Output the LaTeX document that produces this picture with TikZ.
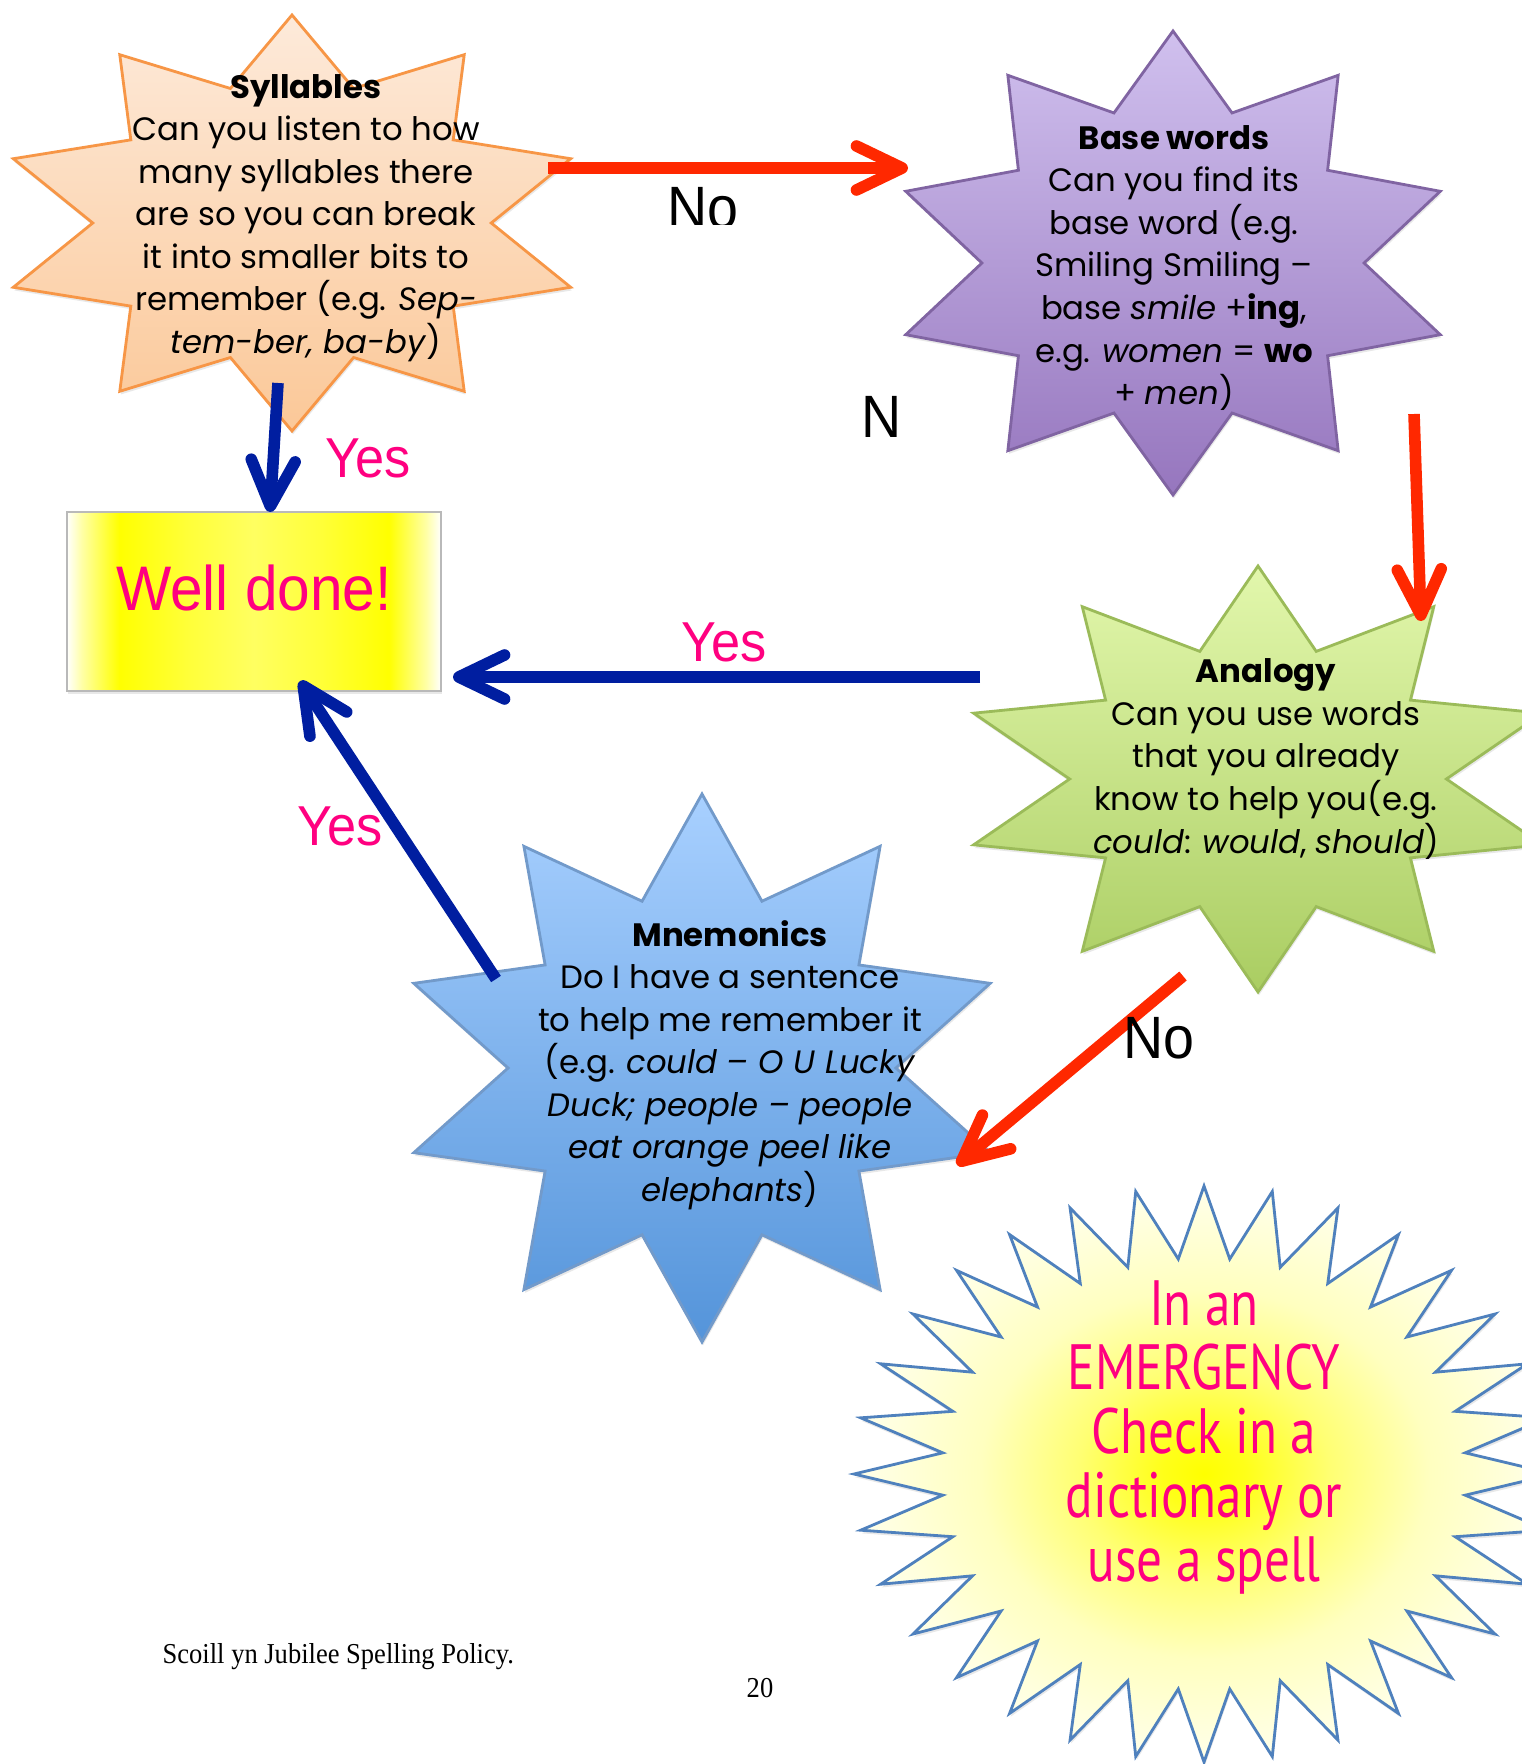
\documentclass[tikz,border=0pt]{standalone}
\usepackage{fontspec}
\setmainfont{Poppins}
\newfontfamily\labelfont[FakeStretch=0.93]{Liberation Sans}
\newfontfamily\burstfont[FakeStretch=0.8]{PT Sans}
\newfontfamily\footfont[FakeStretch=0.92]{Liberation Serif}
\usetikzlibrary{arrows.meta,shadows}

\definecolor{sylTop}{RGB}{253,234,218}
\definecolor{sylBot}{RGB}{251,200,152}
\definecolor{sylLine}{RGB}{247,150,70}
\definecolor{baseTop}{RGB}{208,192,238}
\definecolor{baseBot}{RGB}{150,118,190}
\definecolor{baseLine}{RGB}{128,100,162}
\definecolor{anaTop}{RGB}{226,247,172}
\definecolor{anaBot}{RGB}{170,205,98}
\definecolor{anaLine}{RGB}{155,187,89}
\definecolor{mnemTop}{RGB}{168,208,255}
\definecolor{mnemBot}{RGB}{84,148,218}
\definecolor{mnemLine}{RGB}{79,129,189}
\definecolor{arrowred}{RGB}{255,40,0}
\definecolor{arrowblue}{RGB}{0,30,160}
\definecolor{pinktext}{RGB}{255,0,128}

% tikz maps a path's box onto the middle 25bp--75bp of a shading
\pgfdeclareradialshading{burstfill}{\pgfpointorigin}{color(0bp)=(yellow); color(3bp)=(yellow!90!white); color(9bp)=(yellow!55!white); color(16bp)=(yellow!25!white); color(25bp)=(yellow!8!white); color(50bp)=(yellow!8!white)}
\pgfdeclarehorizontalshading{donefill}{100bp}{color(0bp)=(white); color(25bp)=(white); color(27bp)=(yellow!35!white); color(32bp)=(yellow); color(41bp)=(yellow!78!white); color(50bp)=(yellow!62!white); color(59bp)=(yellow!78!white); color(68bp)=(yellow); color(73bp)=(yellow!35!white); color(75bp)=(white); color(100bp)=(white)}

% star outline: style, cx, cy, rx, ry, points, inner ratio
\newcommand\starburst[7]{%
  \pgfmathtruncatemacro\nsamp{2*#6}%
  \pgfmathtruncatemacro\nlast{2*#6-1}%
  \path[#1] plot[domain=0:\nlast, samples=\nsamp, variable=\k]
    ({#2+(1-(1-#7)*mod(round(\k),2))*#4*cos(90+180/#6*\k)},
     {#3-(1-(1-#7)*mod(round(\k),2))*#5*sin(90+180/#6*\k)}) -- cycle;}

\tikzset{>={Straight Barb[length=13pt,width=12.5pt,round]}}
\tikzset{
  softshadow/.style={drop shadow={opacity=0.18, shadow xshift=0.3pt, shadow yshift=-0.9pt}},
  sylstar/.style={draw=sylLine, line width=0.8pt, top color=sylTop, bottom color=sylBot, softshadow},
  basestar/.style={draw=baseLine, line width=0.8pt, top color=baseTop, bottom color=baseBot, softshadow},
  anastar/.style={draw=anaLine, line width=0.8pt, top color=anaTop, bottom color=anaBot, softshadow},
  mnemstar/.style={draw=mnemLine!80, line width=0.8pt, top color=mnemTop, bottom color=mnemBot, softshadow},
  burst/.style={draw=mnemLine, line width=0.8pt, shading=burstfill, softshadow},
  startext/.style={align=center, inner sep=0pt, font=\fontsize{9.2}{12.1}\selectfont},
  donebox/.style={draw=gray!55, line width=0.6pt, shading=donefill, softshadow,
    minimum width=3.74cm, inner sep=0pt, text height=0.98cm, text depth=0.81cm,
    text=pinktext, font=\labelfont\fontsize{17.9}{17.9}\selectfont},
  yeslabel/.style={text=pinktext, inner sep=0pt, font=\labelfont\fontsize{16}{16}\selectfont},
  nolabel/.style={text=black, inner sep=0pt, font=\labelfont\fontsize{17}{17}\selectfont},
  redarrow/.style={->, draw=arrowred, line width=3.3pt},
  bluearrow/.style={->, draw=arrowblue, line width=3.3pt},
  footnote/.style={inner sep=0pt, font=\footfont\fontsize{8.2}{10}\selectfont}
}

\begin{document}
\begin{tikzpicture}[x=0.01cm, y=-0.01cm]
\useasboundingbox (0,0) rectangle (1522,1764);
\clip (0,0) rectangle (1522,1764);
\fill[white] (0,0) rectangle (1522,1764);

% the five stars
\starburst{sylstar}{292}{223}{293}{208}{10}{0.68}
\starburst{basestar}{1173}{263}{281}{232}{10}{0.68}
\starburst{anastar}{1258}{779}{299}{213}{10}{0.63}
\starburst{mnemstar}{702}{1068}{303}{274}{10}{0.64}
\starburst{burst}{1204}{1474}{350}{288}{32}{0.75}

\node[startext] (syl) at (306,218) {\textbf{Syllables}\\Can you listen to how\\many syllables there\\are so you can break\\it into smaller bits to\\remember (e.g. \textit{Sep-}\\\textit{tem-ber, ba-by})};
\node[startext] (base) at (1174,268) {\textbf{Base words}\\Can you find its\\base word (e.g.\\Smiling Smiling –\\base \textit{smile} +\textbf{ing},\\e.g. \textit{women} = \textbf{wo}\\+ \textit{men})};
\node[startext] (analogy) at (1266,759) {\textbf{Analogy}\\Can you use words\\that you already\\know to help you(e.g.\\\textit{could}: \textit{would}, \textit{should})};
\node[startext] (mnem) at (730,1065) {\textbf{Mnemonics}\\Do I have a sentence\\to help me remember it\\(e.g. \textit{could – O U Lucky}\\\textit{Duck; people – people}\\\textit{eat orange peel like}\\\textit{elephants})};
\node[align=center, inner sep=0pt, text=pinktext, font=\burstfont\fontsize{18.2}{18.2}\selectfont] (emerg) at (1204,1437) {In an\\EMERGENCY\\Check in a\\dictionary or\\use a spell};

\node[donebox] (done) at (254,601.5) {Well done!};

% arrows
\coordinate (syl-no) at (548,168);
\coordinate (base-in) at (908,168);
\coordinate (base-no) at (1414,414);
\coordinate (analogy-in) at (1421,621);
\coordinate (analogy-no) at (1183,976);
\coordinate (mnem-in) at (957,1165);
\coordinate (syl-yes) at (278,383);
\coordinate (done-top) at (270,512);
\coordinate (analogy-yes) at (980,677);
\coordinate (done-right) at (453,677);
\coordinate (mnem-yes) at (496,979);
\coordinate (done-bottom) at (300,681);
\draw[redarrow] (syl-no) -- (base-in);
\draw[redarrow] (base-no) -- (analogy-in);
\draw[redarrow] (analogy-no) -- (mnem-in);
\draw[bluearrow] (syl-yes) -- (done-top);
\draw[bluearrow] (analogy-yes) -- (done-right);
\draw[bluearrow] (mnem-yes) -- (done-bottom);

% labels
\begin{scope}
\clip (600,150) rectangle (800,225);
\node[nolabel, anchor=base west] (no1) at (667,229) {No};
\end{scope}
\node[nolabel, anchor=base west] (n) at (861,438) {N};
\node[nolabel, anchor=base west] (no2) at (1123,1058) {No};
\node[yeslabel, anchor=base west] (yes1) at (325,477) {Yes};
\node[yeslabel, anchor=base west] (yes2) at (681,661) {Yes};
\node[yeslabel, anchor=base west] (yes3) at (297,845) {Yes};

\node[footnote, anchor=base west] (foot) at (162,1663) {Scoill yn Jubilee Spelling Policy.};
\node[footnote, anchor=base] (page) at (760,1697) {20};
\end{tikzpicture}
\end{document}
